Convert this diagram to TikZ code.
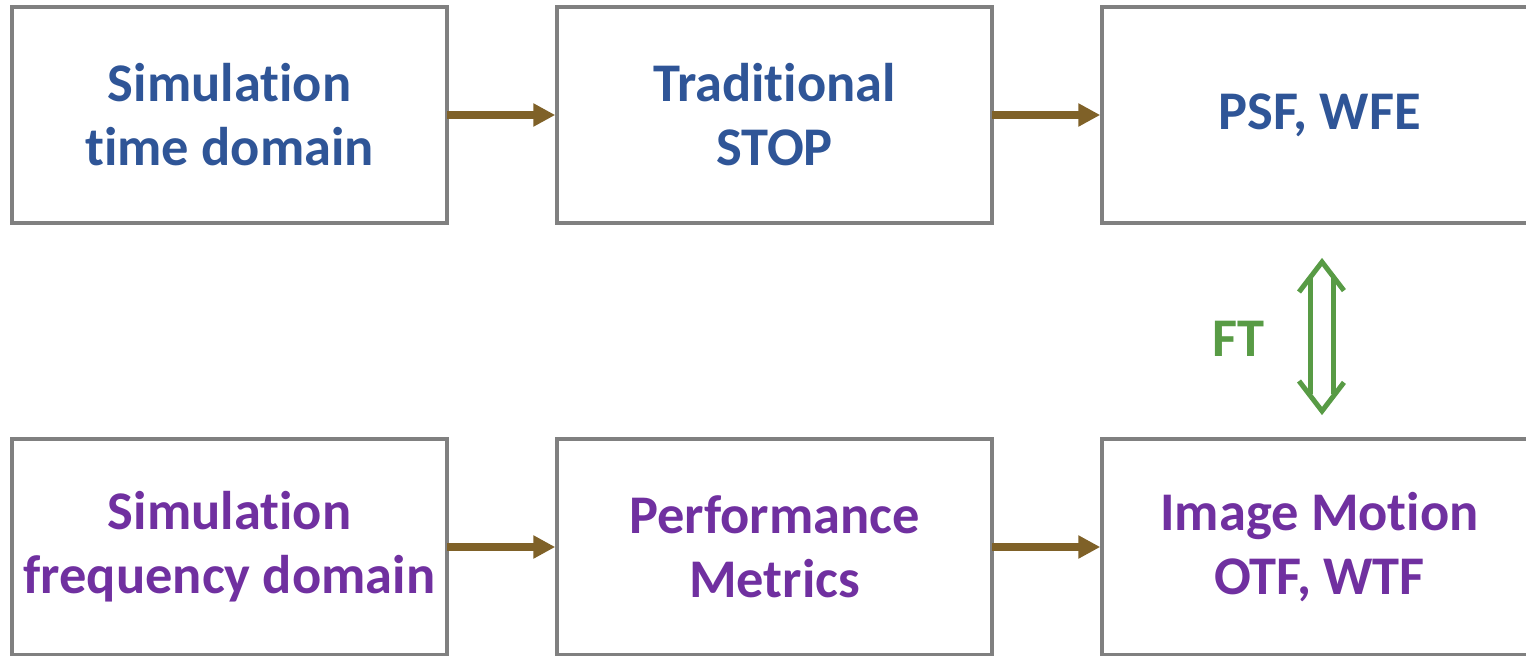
\documentclass[tikz,border=0pt]{standalone}
\usepackage{fontspec}
\setmainfont[Ligatures=NoCommon]{Carlito}
\usetikzlibrary{positioning,arrows.meta}
\definecolor{boxgray}{HTML}{808080}
\definecolor{flowbrown}{HTML}{7F6128}
\definecolor{topblue}{HTML}{2F5597}
\definecolor{botpurple}{HTML}{7030A0}
\definecolor{ftgreen}{HTML}{589B45}
\tikzset{main node/.style={rectangle,draw=boxgray,line width=2.3pt,outer sep=0pt,minimum width=8.7cm,minimum height=4.32cm,inner sep=0pt,align=center,font=\fontsize{31}{36.4}\selectfont\bfseries},
flow/.style={color=flowbrown,line width=4pt,-{Triangle[length=0.44cm,width=0.44cm]}},
ft arrow/.style={draw=ftgreen,line width=0.1cm,line join=miter},
}

\begin{document}
\begin{tikzpicture}[node distance = 2.2cm and 2.2cm, shorten >= 1pt]
	\clip (0,0) rectangle (30.52,-13.1);
	\node[main node,text=topblue] (simtime) at (4.59,-2.3) {Simulation\\time domain};
	\node[main node,text=topblue] (trad)[right = of simtime]{Traditional\\STOP};
	\node[main node,text=topblue] (psf)[right = of trad]{PSF, WFE};
	\node[main node,text=botpurple] (simfreq)[below = 4.32cm of simtime]{Simulation\\frequency domain};
	\node[main node,text=botpurple] (perf)[right = of simfreq]{Performance\\Metrics};
	\node[main node,text=botpurple] (img)[right = of perf]{Image Motion\\OTF, WTF};
	
	\path[flow]
	(simtime) edge (trad)
	(trad) edge (psf)
	(simfreq) edge (perf)
	(perf) edge (img);
	
	% FT double arrow
	\coordinate (ft top) at ([xshift=0.05cm,yshift=-0.78cm]psf.south);
	\coordinate (ft bot) at ([xshift=0.05cm,yshift=0.56cm]img.north);
	\draw[ft arrow] (ft top) ++(-0.46,-0.6) -- (ft top) -- ++(0.46,-0.6);
	\draw[ft arrow] (ft bot) ++(-0.46,0.6) -- (ft bot) -- ++(0.46,0.6);
	\draw[ft arrow] ([xshift=-0.23cm,yshift=-0.3cm]ft top) -- ([xshift=-0.23cm,yshift=0.3cm]ft bot);
	\draw[ft arrow] ([xshift=0.23cm,yshift=-0.3cm]ft top) -- ([xshift=0.23cm,yshift=0.3cm]ft bot);
	\node[text=ftgreen,font=\fontsize{31}{36.4}\selectfont\bfseries] (ft) at ([xshift=-1.63cm,yshift=-2.32cm]psf.south) {FT};
\end{tikzpicture}
\end{document}
